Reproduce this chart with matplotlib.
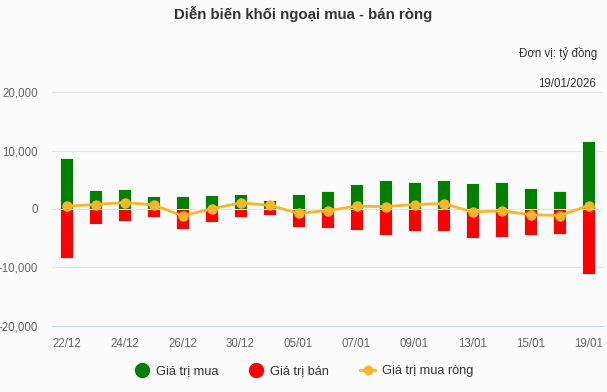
import matplotlib
matplotlib.use('Agg')
import matplotlib.pyplot as plt
from matplotlib.lines import Line2D
import numpy as np

plt.rcParams['font.family'] = ['Liberation Sans', 'DejaVu Sans']

# Data (ty dong)
dates = ['22/12', '23/12', '24/12', '25/12', '26/12', '29/12', '30/12', '31/12', '05/01',
         '06/01', '07/01', '08/01', '09/01', '12/01', '13/01', '14/01', '15/01', '16/01', '19/01']
buy = [8700, 3160, 3390, 2130, 2130, 2300, 2470, 1610, 2470,
       2990, 4200, 4890, 4540, 4890, 4370, 4540, 3510, 2990, 11600]
sell = [-8350, -2640, -2130, -1440, -3500, -2300, -1440, -1090, -3160,
        -3330, -3680, -4540, -3850, -3850, -5060, -4890, -4540, -4370, -11090]
net = [460, 750, 1090, 690, -1200, 0, 1030, 630, -750,
       -290, 460, 400, 750, 920, -520, -340, -980, -1150, 570]
yticks = [-20000, -10000, 0, 10000, 20000]

green = '#008000'
red = '#ff0000'
orange = '#f7b52c'
bg = '#fbfbfb'

fig = plt.figure(figsize=(6.07, 3.92), dpi=100, facecolor=bg)
ax = fig.add_axes([52 / 607, 1 - 325.5 / 392, 551 / 607, (325.5 - 92.3) / 392])
ax.set_facecolor(bg)

x = np.arange(len(dates))
ax.bar(x, buy, width=0.45, color=green, edgecolor='white', linewidth=0.6, zorder=2)
ax.bar(x, sell, width=0.45, color=red, edgecolor='white', linewidth=0.6, zorder=2)
ax.plot(x, net, color=orange, lw=2, marker='o', markersize=6.5, zorder=3)

ax.set_xlim(-0.5, len(dates) - 0.5)
ax.set_ylim(-20000, 20000)
ax.set_yticks(yticks)
ax.set_yticklabels(['{:,}'.format(v) for v in yticks])
ax.set_xticks(x[::2])
ax.set_xticklabels(dates[::2])
ax.grid(axis='y', color='#e6e6e6', lw=0.8, zorder=0)
ax.set_axisbelow(True)
for s in ['top', 'right', 'left']:
    ax.spines[s].set_visible(False)
ax.spines['bottom'].set_color('#ccd6eb')
ax.tick_params(axis='both', length=0, colors='#666666', labelsize=8.3)
ax.tick_params(axis='y', pad=10)
ax.tick_params(axis='x', pad=9)

fig.text(0.5, 1 - 14 / 392, 'Diễn biến khối ngoại mua - bán ròng', ha='center', va='center',
         fontsize=10.8, fontweight='bold', color='#333333')
fig.text(597 / 607, 1 - 53 / 392, 'Đơn vị: tỷ đồng', ha='right', va='center',
         fontsize=8.3, color='#333333')
fig.text(596 / 607, 1 - 84 / 392, '19/01/2026', ha='right', va='center',
         fontsize=8.3, color='#333333')

handles = [Line2D([], [], ls='none', marker='o', markersize=10, color=green),
           Line2D([], [], ls='none', marker='o', markersize=10, color=red),
           Line2D([], [], color=orange, lw=2, marker='o', markersize=6)]
fig.legend(handles, ['Giá trị mua', 'Giá trị bán', 'Giá trị mua ròng'], loc='center',
           bbox_to_anchor=(0.5, 1 - 371 / 392), ncol=3, frameon=False, fontsize=9.2,
           handlelength=1.2, handletextpad=0.5, columnspacing=2.4, labelcolor='#333333')

fig.savefig('out.png', dpi=100, facecolor=bg)
